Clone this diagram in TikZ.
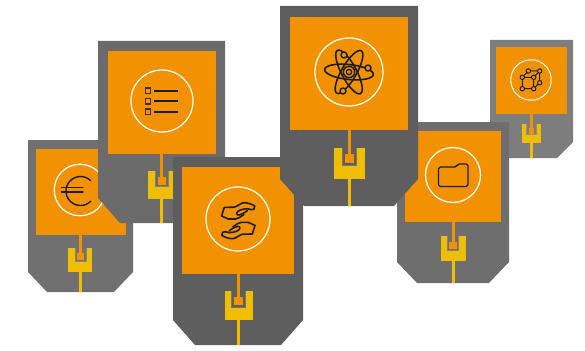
\documentclass[tikz,border=0pt]{standalone}
\usetikzlibrary{calc}
\definecolor{cardorange}{HTML}{F39200}
\definecolor{cardyellow}{HTML}{EFBE00}
\definecolor{iconink}{HTML}{1D1D1B}
\tikzset{
  panelbox/.style={fill=cardorange,draw=none,inner sep=0pt,outer sep=0pt,rectangle},
  hubbox/.style={fill=cardyellow,draw=none,inner sep=0pt,outer sep=0pt,rectangle},
  hubsq/.style={fill=cardorange,draw=none,inner sep=0pt,outer sep=0pt,rectangle},
  ring/.style={circle,draw=white,line width=1.25pt,inner sep=0pt,outer sep=0pt,fill=none},
  ink/.style={draw=iconink,line width=1.6pt,line join=round,line cap=round},
  stemor/.style={draw=cardorange},
  stemye/.style={draw=cardyellow},
}
% style,name,x1,y1,x2,y2
\newcommand\rectnode[6]{%
  \pgfmathsetmacro\rnw{#5-#3}\pgfmathsetmacro\rnh{#6-#4}%
  \node[#1,minimum width=\rnw pt,minimum height=\rnh pt] (#2) at ({(#3+#5)/2},{(#4+#6)/2}) {};}
% color,x1,y1,x2,y2,chamfer-y-start,chamfer
\newcommand\cardbody[7]{%
  \fill[#1] (#2,#3) -- (#4,#3) -- (#4,#6) -- ({#4-#7},#5) -- ({#2+#7},#5) -- (#2,#6) -- cycle;}
% name,gray,boxx1,boxy1,boxx2,boxy2,notchx1,notchx2,notchbottom
\newcommand\hubbody[9]{%
  \rectnode{hubbox}{#1-y}{#3}{#4}{#5}{#6}%
  \fill[#2] (#7,#4) rectangle (#8,#9);
  \draw[white,draw opacity=.15,line width=1pt] ({#7+.5},#4) -- ({#7+.5},{#9-.5}) -- ({#8-.5},{#9-.5}) -- ({#8-.5},#4);}
% name,sqx1,sqy1,sqx2,sqy2,stemwidth,endy
\newcommand\hubstem[7]{%
  \rectnode{hubsq}{#1-s}{#2}{#3}{#4}{#5}%
  \coordinate (#1-e) at ({(#2+#4)/2},#7);
  \draw[stemor,line width=#6pt] (#1-o.south -| #1-s.center) -- (#1-s.center);
  \draw[stemye,line width=#6pt] (#1-y.south -| #1-s.center) -- (#1-e);}
\begin{document}
\begin{tikzpicture}[x=1pt,y=-1pt]
\useasboundingbox (0,0) rectangle (585,350);
\fill[white] (0,0) rectangle (585,350);

% euro card
\cardbody{black!56}{28}{140}{133}{292}{272}{19}
\rectnode{panelbox}{eu-o}{36}{149}{126}{235}
\node[ring,minimum size=51.5pt] (eu-c) at (80,190) {};
\draw[ink,line width=1.4pt] (90.75,180.75) arc[start angle=-45,end angle=-315,radius=14.5];
\draw[ink,line width=1.2pt] (61.5,187.5) -- (83,187.5) (61.5,192) -- (83,192);
\hubbody{eu}{black!56}{68}{248}{92}{272}{74.5}{86.5}{262}
\hubstem{eu}{77}{252.5}{84}{260}{3}{292}

% list card
\cardbody{black!58}{98}{41}{225}{223}{198}{22}
\rectnode{panelbox}{li-o}{108}{51}{216}{154}
\node[ring,minimum size=62pt] (li-c) at (162,101) {};
\foreach \yy in {90.7,101.3,111.7}{
  \draw[iconink!85!cardorange,line width=1.25pt,fill=none] (145.3,\yy-2.7) rectangle (150.7,\yy+2.7);
  \draw[iconink,line width=1.9pt] (154,\yy) -- (178,\yy);
}
\hubbody{li}{black!58}{148}{171}{175}{199}{155}{169}{187}
\hubstem{li}{157.5}{177}{166}{185}{3}{223}

% hands card
\cardbody{black!63}{173}{157}{303}{345}{320}{22}
\rectnode{panelbox}{ha-o}{182}{167}{294}{274}
\node[ring,minimum size=64pt] (ha-c) at (238,219) {};
\foreach \rr in {0,180}{
\begin{scope}[shift={(238.3,220.7)},rotate=\rr]
  \draw[ink] (-16.7,-4.7) -- (-14,-13.3) -- (-4,-13.5) .. controls (0,-15) and (3,-18) .. (6,-18) .. controls (10,-18) and (15,-16) .. (16.5,-14.5) .. controls (17,-12) and (15,-10.5) .. (13,-11) .. controls (10,-12) and (8,-12.5) .. (5,-11.5) .. controls (0,-10.5) and (-3,-8) .. (-1,-6) .. controls (1,-4.5) and (6,-8) .. (9,-10);
  \draw[ink] (5.5,-6) .. controls (2,-4) and (0,-1.7) .. (-3,-1.7) -- (-10,-1.7) -- (-16.7,-4.7);
\end{scope}}
\hubbody{ha}{black!63}{224.5}{291}{253}{320}{231}{246}{308}
\hubstem{ha}{234}{296.5}{243}{305}{3.2}{345}

% small network card
\cardbody{black!51}{490}{40}{573}{158}{142}{16}
\rectnode{panelbox}{ne-o}{496}{47}{567}{114}
\node[ring,minimum size=40.5pt,line width=1pt] (ne-c) at (531,80) {};
\draw[iconink,line width=1pt] (522.3,77.3) -- (533.7,77.3) -- (533.7,88.7) -- (522.3,88.7) -- cycle
  (528.3,71) -- (539.7,71) -- (539.7,82.7) -- (533.7,88.7)
  (528.3,71) -- (522.3,77.3) (539.7,71) -- (533.7,77.3);
\foreach \px/\py in {522.3/77.3,533.7/77.3,522.3/88.7,533.7/88.7,528.3/71,539.7/71,539.7/82.7}
  \draw[iconink,fill=cardorange,line width=1pt] (\px,\py) circle[radius=2.2];
\hubbody{ne}{black!51}{522}{124}{541}{143}{526}{537}{135}
\hubstem{ne}{528.7}{128}{534}{134}{2.3}{158}

% folder card
\cardbody{black!57}{397}{122}{509}{283}{262}{20}
\rectnode{panelbox}{fo-o}{405}{131}{501}{222}
\node[ring,minimum size=55pt] (fo-c) at (453,175) {};
\draw[draw=iconink,line width=1.3pt,rounded corners=1.8pt] (438.5,167) -- (456.5,167) -- (457.5,164) -- (468,164) -- (468,186.5) -- (438.5,186.5) -- cycle;
\hubbody{fo}{black!57}{441}{236}{466}{261}{447}{459}{251}
\hubstem{fo}{449}{241.7}{457}{249}{3}{283}

% atom card
\cardbody{black!63}{280}{6}{418}{206}{179}{24}
\rectnode{panelbox}{at-o}{290}{17}{408}{130}
\node[ring,minimum size=68pt] (at-c) at (349,72) {};
\foreach \aa in {-6,60,118}{
  \draw[ink,rotate around={\aa:(349,72)}] (349,72) ellipse[x radius=24.5,y radius=7.5];
}
\draw[ink,line width=1.5pt] (349,72) circle[radius=5.7];
\draw[ink,line width=1.4pt] (349,72) circle[radius=2.7];
\foreach \px/\py in {368/68,344/55,343/91}
  \draw[ink,fill=cardorange,line width=1.5pt] (\px,\py) circle[radius=3];
\hubbody{at}{black!63}{334}{148}{365}{179}{342}{357}{166}
\hubstem{at}{345}{154}{354}{163}{3.6}{206}
\end{tikzpicture}
\end{document}
